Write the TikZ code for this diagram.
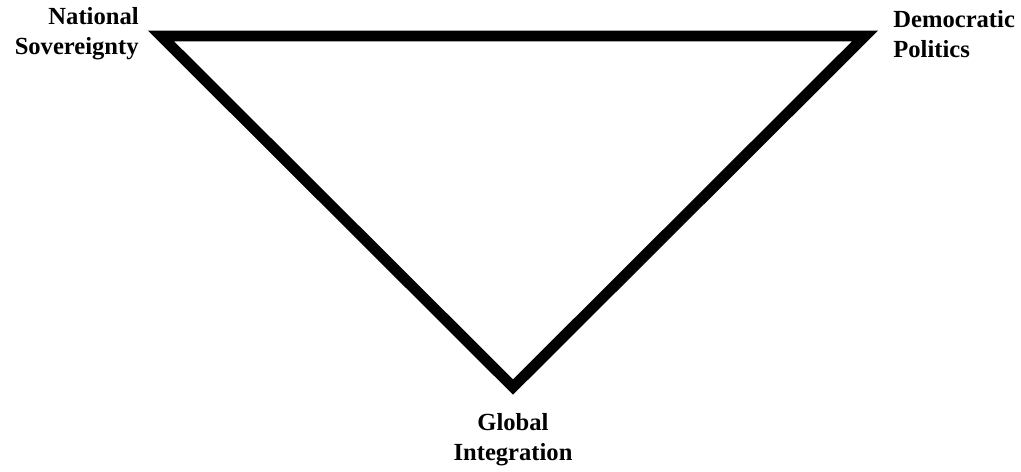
\documentclass[tikz,border=0pt]{standalone}
\usepackage{fontspec}
\setmainfont{Liberation Serif}
\usepackage{tikz}

\tikzset{
  corner/.style={font=\fontsize{14}{17}\selectfont\bfseries,inner sep=0pt},
  side/.style={line width=6.2pt,black,line join=miter}
}

\begin{document}
\begin{tikzpicture}[x=0.02cm,y=-0.02cm]
\useasboundingbox (0,0) rectangle (1021,471);
% the three goals of the trilemma
\coordinate (sov) at (161,36);
\coordinate (dem) at (865,36);
\coordinate (glob) at (513,387);
\draw[side] (sov) -- (dem) -- (glob) -- cycle;
\node[corner,anchor=east,align=right] (sovlabel) at (139,34) {National\\Sovereignty};
\node[corner,anchor=west,align=left] (demlabel) at (893,34) {Democratic\\Politics};
\node[corner,anchor=center,align=center] (globlabel) at (513,440) {Global\\Integration};
\end{tikzpicture}
\end{document}
